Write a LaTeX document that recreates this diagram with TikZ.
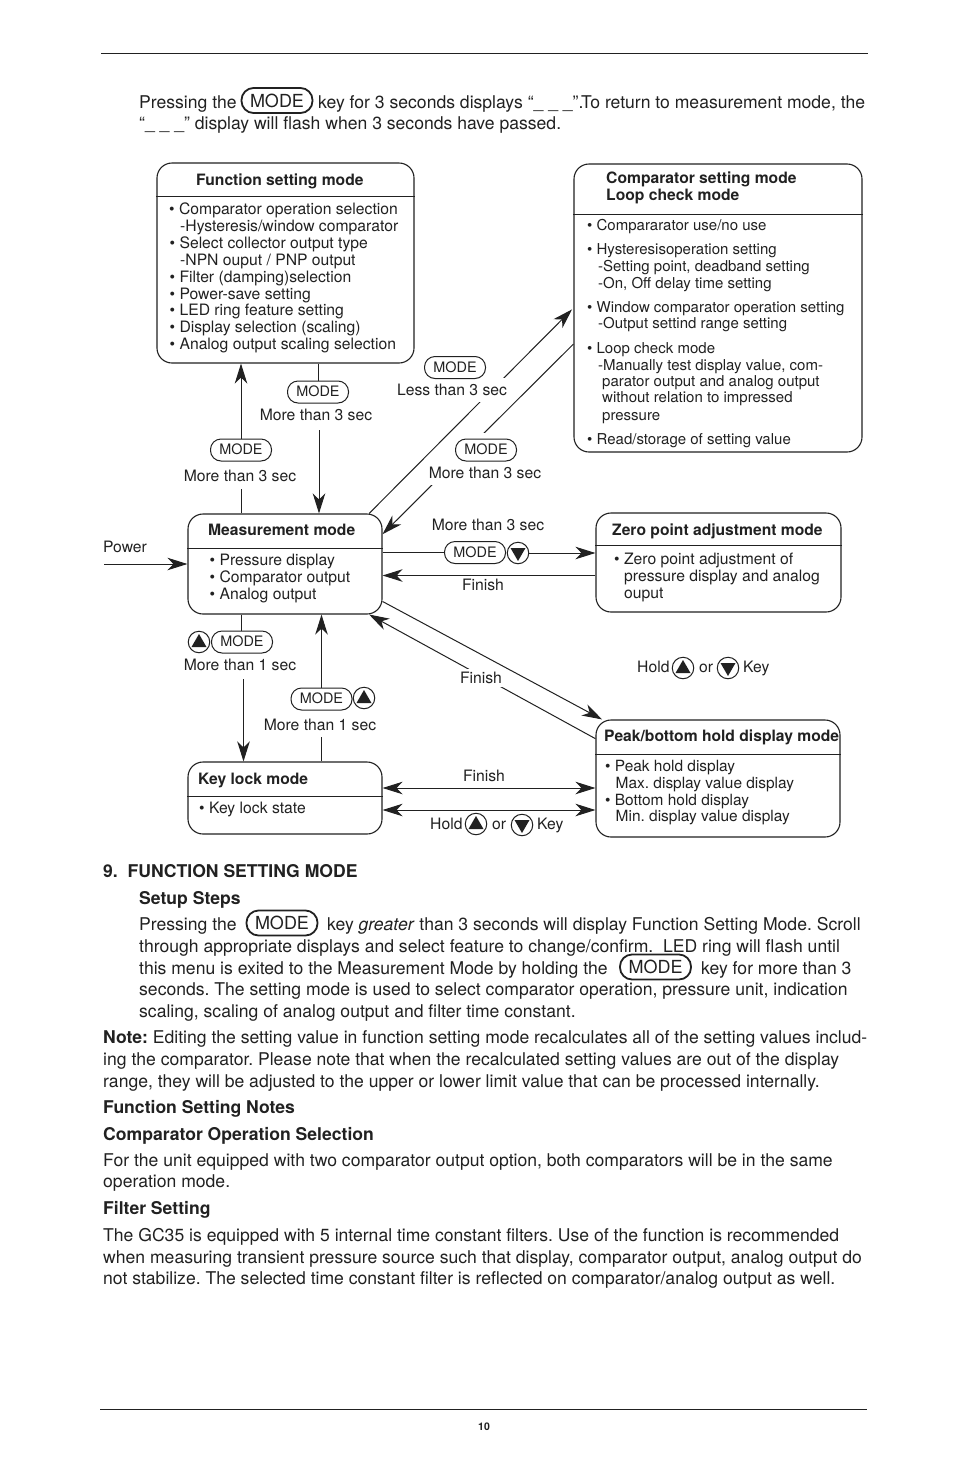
\documentclass[tikz,border=0pt]{standalone}
\usepackage{fontspec}
\setmainfont{TeX Gyre Heros}
\usetikzlibrary{arrows.meta,calc,shapes.geometric}
\frenchspacing
\newcounter{ln}
\newcommand\bodyline[3]{\stepcounter{ln}\node[bodytext] (b\theln) at (#1,#2) {#3};}
\newcommand\diagline[3]{\stepcounter{ln}\node[diagtext] (d\theln) at (#1,#2) {#3};}
\newcommand\compline[3]{\stepcounter{ln}\node[diagtext,font=\fontsize{15pt}{17pt}\selectfont] (c\theln) at (#1,#2) {#3};}
\newcommand\peakline[3]{\stepcounter{ln}\node[diagtext,font=\fontsize{15.45pt}{17pt}\selectfont] (e\theln) at (#1,#2) {#3};}
\newcommand\diagbold[3]{\stepcounter{ln}\node[diagtext,font=\fontsize{15.65pt}{17pt}\selectfont\bfseries] (t\theln) at (#1,#2) {#3};}
\newcommand\keyup[2]{\node[keyc] (#1) at (#2) {};\fill[inkc] ($(#1)+(-7.5,5)$) -- ($(#1)+(7.5,5)$) -- ($(#1)+(0,-8)$) -- cycle;}
\newcommand\keydown[2]{\node[keyc] (#1) at (#2) {};\fill[inkc] ($(#1)+(-7.5,-5)$) -- ($(#1)+(7.5,-5)$) -- ($(#1)+(0,8)$) -- cycle;}
\newcommand\smode{\raisebox{1.2pt}{MODE}}
\definecolor{inkc}{gray}{0.13}
\tikzset{
  bodytext/.style={anchor=base west,inner sep=0pt,text=inkc,font=\fontsize{17.58pt}{21pt}\selectfont},
  diagtext/.style={anchor=base west,inner sep=0pt,text=inkc,font=\fontsize{15.7pt}{17pt}\selectfont},
  lab/.style={anchor=center,inner sep=1pt,fill=white,text=inkc,font=\fontsize{15.7pt}{17pt}\selectfont},
  box/.style={draw=inkc,line width=1.1pt,rounded corners=15pt,inner sep=0pt},
  rulel/.style={draw=inkc,line width=1pt},
  pill/.style={draw=inkc,line width=1pt,rounded corners=10.5pt,minimum width=61pt,minimum height=22pt,inner sep=0pt,fill=white,text=inkc,font=\fontsize{14.4pt}{17pt}\selectfont},
  bigpill/.style={draw=inkc,line width=1.8pt,rounded corners=12pt,minimum width=71pt,minimum height=25pt,inner sep=0pt,fill=white,text=inkc,font=\fontsize{18pt}{21pt}\selectfont},
  keyc/.style={circle,draw=inkc,line width=1pt,minimum size=21.5pt,inner sep=0pt,fill=white},
  conn/.style={draw=inkc,line width=1pt},
  arr/.style={conn,-{Stealth[length=20pt,width=12.5pt,inset=6pt]}},
  darr/.style={conn,{Stealth[length=20pt,width=12.5pt,inset=6pt]}-{Stealth[length=20pt,width=12.5pt,inset=6pt]}},
}
\begin{document}
\begin{tikzpicture}[x=1pt,y=-1pt]
\path[fill=white,use as bounding box] (0,0) rectangle (954,1475);
% page rules
\coordinate (rt1) at (101,53.5); \coordinate (rt2) at (868,53.5);
\coordinate (rb1) at (100,1409.5); \coordinate (rb2) at (867,1409.5);
\draw[rulel] (rt1) -- (rt2);
\draw[rulel] (rb1) -- (rb2);
% boxes
\node[box,minimum width=257pt,minimum height=200pt] (fs) at (285.5,263) {};
\node[box,minimum width=288pt,minimum height=288pt] (comp) at (718,308) {};
\node[box,minimum width=194pt,minimum height=100pt] (meas) at (285,564) {};
\node[box,minimum width=245pt,minimum height=99pt] (zero) at (718.5,562.5) {};
\node[box,minimum width=244pt,minimum height=117pt] (peak) at (718,778.5) {};
\node[box,minimum width=194pt,minimum height=72pt] (keyl) at (285,798) {};
\draw[rulel] (fs.west |- 0,196) -- (fs.east |- 0,196);
\draw[rulel] (comp.west |- 0,214) -- (comp.east |- 0,214);
\draw[rulel] (meas.west |- 0,548) -- (meas.east |- 0,548);
\draw[rulel] (zero.west |- 0,545) -- (zero.east |- 0,545);
\draw[rulel] (peak.west |- 0,754) -- (peak.east |- 0,754);
\draw[rulel] (keyl.west |- 0,796) -- (keyl.east |- 0,796);
% diagonal connectors, interrupted by their labels
\draw[arr,shorten >=2pt] (meas.31) -- (comp.west);
\draw[arr] (comp.194.4) -- (meas.17.7);
\draw[arr] (meas.-21.9) -- (peak.153.2);
\draw[arr] (peak.162.5) -- (meas.-31.5);
% horizontal connectors
\coordinate (pw) at (104,564);
\draw[arr] (pw) -- (meas.west |- pw);
\node[pill] (pz) at (475,552.5) {\smode};
\keydown{kz}{518,553}
\draw[conn] (meas.east |- pz) -- (pz.west);
\draw[arr] (kz.east) -- (zero.west |- kz);
\draw[arr] (zero.west |- 0,575.5) -- (meas.east |- 0,575.5);
\draw[darr] (keyl.east |- 0,788) -- (peak.west |- 0,788);
\draw[darr] (keyl.east |- 0,810) -- (peak.west |- 0,810);
% labels
\node[lab] (l1) at (316,415) {More than 3 sec};
\node[pill] (p1) at (318,392) {\smode};
\node[lab] (l2) at (240,476) {More than 3 sec};
\node[pill] (p2) at (241,450) {\smode};
\node[lab,inner ysep=6pt] (l3) at (452,390) {Less than 3 sec};
\node[pill] (p3) at (455,367.5) {\smode};
\fill[white] (455,433) rectangle (517,461);
\node[lab,inner ysep=6pt] (l4) at (485,473) {More than 3 sec};
\node[pill] (p4) at (486,450) {\smode};
\node[lab] (l5) at (488,525) {More than 3 sec};
\node[lab] (l6) at (483,584.5) {Finish};
\node[lab,inner ysep=3pt] (l7) at (481,678) {Finish};
\node[lab] (l8) at (484,776) {Finish};
\node[lab] (pwr) at (125,547) {Power};
\node[pill] (p5) at (242,642) {\smode};
\keyup{k5}{199,642}
\node[lab] (l9) at (240,665) {More than 1 sec};
\node[pill] (p6) at (321.5,699) {\smode};
\keyup{k6}{364,698}
\node[lab] (l10) at (320,725) {More than 1 sec};
% vertical connectors
\coordinate (l1s) at ($(l1.south)+(0,8)$);
\coordinate (l2s) at ($(l2.south)+(0,6)$);
\coordinate (l9s) at ($(l9.south)+(0,7)$);
\coordinate (l10s) at ($(l10.south)+(0,5)$);
\draw[conn] (241,0 |- meas.north) -- (241,0 |- l2s);
\draw[arr] (241,0 |- p2.north) -- (241,0 |- fs.south);
\draw[conn] (318,0 |- fs.south) -- (318,0 |- p1.north);
\draw[arr] (319,0 |- l1s) -- (319,0 |- meas.north);
\draw[conn] (241,0 |- meas.south) -- (241,0 |- p5.north);
\draw[arr] (243.5,0 |- l9s) -- (243.5,0 |- keyl.north);
\draw[conn] (321.5,0 |- keyl.north) -- (321.5,0 |- l10s);
\draw[arr] (321.5,0 |- p6.north) -- (321.5,0 |- meas.south);
% hold labels
\diagline{637}{672}{Hold}
\keyup{k7}{683,668}
\diagline{699}{672}{or}
\keydown{k8}{728,668}
\diagline{743}{672}{Key}
\diagline{430}{829}{Hold}
\keyup{k9}{476,824}
\diagline{492}{829}{or}
\keydown{k10}{522,825}
\diagline{537}{829}{Key}
% function box
\diagbold{196}{185}{Function setting mode}
\diagline{169}{214}{• Comparator operation selection}
\diagline{180}{231}{-Hysteresis/window comparator}
\diagline{169.5}{248}{• Select collector output type}
\diagline{180}{265}{-NPN ouput / PNP output}
\diagline{169.5}{282}{• Filter (damping)selection}
\diagline{169.5}{299}{• Power-save setting}
\diagline{169.5}{315}{• LED ring feature setting}
\diagline{169.5}{332}{• Display selection (scaling)}
\diagline{169.5}{349}{• Analog output scaling selection}
% comparator box
\diagbold{606}{183}{Comparator setting mode}
\diagbold{606}{200}{Loop check mode}
\compline{587}{230}{• Compararator use/no use}
\compline{587}{254}{• Hysteresisoperation setting}
\compline{598}{271}{-Setting point, deadband setting}
\compline{598}{288}{-On, Off delay time setting}
\compline{587}{312}{• Window comparator operation setting}
\compline{598}{328}{-Output settind range setting}
\compline{587}{353}{• Loop check mode}
\compline{598}{370}{-Manually test display value, com-}
\compline{602}{386}{parator output and analog output}
\compline{602}{402}{without relation to impressed}
\compline{602}{420}{pressure}
\compline{587}{444}{• Read/storage of setting value}
% measurement box
\diagbold{208}{535}{Measurement mode}
\diagline{209.5}{565}{• Pressure display}
\diagline{209.5}{582}{• Comparator output}
\diagline{209.5}{599}{• Analog output}
% zero box
\diagbold{612}{535}{Zero point adjustment mode}
\diagline{614}{564}{• Zero point adjustment of}
\diagline{624}{581}{pressure display and analog}
\diagline{624}{598}{ouput}
% peak box
\diagbold{604}{741}{Peak/bottom hold display mode}
\peakline{605}{771}{• Peak hold display}
\peakline{615.5}{788}{Max. display value display}
\peakline{605}{805}{• Bottom hold display}
\peakline{615.5}{821}{Min. display value display}
% key lock box
\diagbold{198}{784}{Key lock mode}
\diagline{199}{813}{• Key lock state}
% body text
\bodyline{139}{108}{Pressing the}
\node[bigpill] (m1) at (277,100.5) {MODE};
\bodyline{318}{108}{key for 3 seconds displays “\_ \_ \_”.}
\bodyline{581}{108}{To return to measurement mode, the}
\bodyline{139}{129}{“\_ \_ \_” display will flash when 3 seconds have passed.}
\bodyline{103}{877}{\bfseries 9.\ \ FUNCTION SETTING MODE}
\bodyline{139}{904}{\bfseries Setup Steps}
\bodyline{139}{930}{Pressing the}
\node[bigpill] (m2) at (282,923) {MODE};
\bodyline{327}{930}{key \textit{greater} than 3 seconds will display Function Setting Mode. Scroll}
\bodyline{139}{952}{through appropriate displays and select feature to change/confirm.\ \ LED ring will flash until}
\bodyline{139}{974}{this menu is exited to the Measurement Mode by holding the}
\node[bigpill] (m3) at (655.5,967) {MODE};
\bodyline{701}{974}{key for more than 3}
\bodyline{139}{995}{seconds. The setting mode is used to select comparator operation, pressure unit, indication}
\bodyline{139}{1017}{scaling, scaling of analog output and filter time constant.}
\bodyline{103}{1043}{\textbf{Note:} Editing the setting value in function setting mode recalculates all of the setting values includ-}
\bodyline{103}{1065}{ing the comparator. Please note that when the recalculated setting values are out of the display}
\bodyline{103}{1087}{range, they will be adjusted to the upper or lower limit value that can be processed internally.}
\bodyline{103}{1113}{\bfseries Function Setting Notes}
\bodyline{103}{1140}{\bfseries Comparator Operation Selection}
\bodyline{103}{1166}{For the unit equipped with two comparator output option, both comparators will be in the same}
\bodyline{103}{1187}{operation mode.}
\bodyline{103}{1214}{\bfseries Filter Setting}
\bodyline{103}{1241}{The GC35 is equipped with 5 internal time constant filters. Use of the function is recommended}
\bodyline{103}{1263}{when measuring transient pressure source such that display, comparator output, analog output do}
\bodyline{103}{1284}{not stabilize. The selected time constant filter is reflected on comparator/analog output as well.}
\node[anchor=base,inner sep=0pt,text=inkc,font=\fontsize{10.5pt}{12pt}\selectfont\bfseries] (pg) at (484,1430) {10};
\end{tikzpicture}
\end{document}
